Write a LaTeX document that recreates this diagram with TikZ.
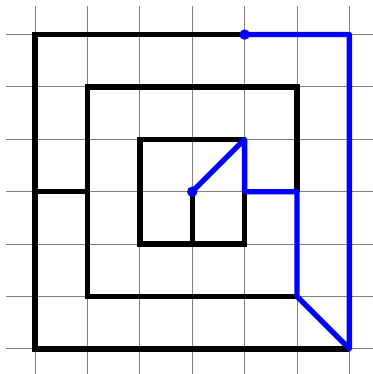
\documentclass[tikz,border=0pt]{standalone}
\usepackage{tikz}
\usetikzlibrary{arrows.meta, positioning}
\usepackage{xcolor}
\definecolor{pathblue}{RGB}{0,0,255}

\begin{document}
\begin{tikzpicture}[wall/.style={black, line width=2.9pt}, route/.style={pathblue, line width=2.9pt, line join=round}]
    \useasboundingbox (-0.67,-0.48) rectangle (6.45,6.66);
    \clip (-0.67,-0.48) rectangle (6.45,6.66);
    % 6x6 grid
    \foreach \i in {0,...,6} {
      \draw[gray, line width=0.5pt] (\i,-0.55) -- (\i,6.55);
      \draw[gray, line width=0.5pt] (-0.55,\i) -- (6.55,\i);
    }
    % walls
    \draw[wall] (4,6) -- (0,6) -- (0,0) -- (6,0);
    \draw[wall] (5,3) -- (5,5) -- (1,5) -- (1,1) -- (5,1);
    \draw[wall] (4,3) -- (4,2) -- (2,2) -- (2,4) -- (4,4);
    \draw[wall] (0,3) -- (1,3);
    \draw[wall] (3,3) -- (3,2);
    % route
    \coordinate (start) at (4,6);
    \coordinate (goal) at (3,3);
    \draw[route] (start) -- (6,6) -- (6,0) -- (5,1) -- (5,3) -- (4,3) -- (4,4) -- (goal);
    \fill[pathblue] (start) circle (0.1);
    \fill[pathblue] (goal) circle (0.1);
  \end{tikzpicture}
\end{document}
